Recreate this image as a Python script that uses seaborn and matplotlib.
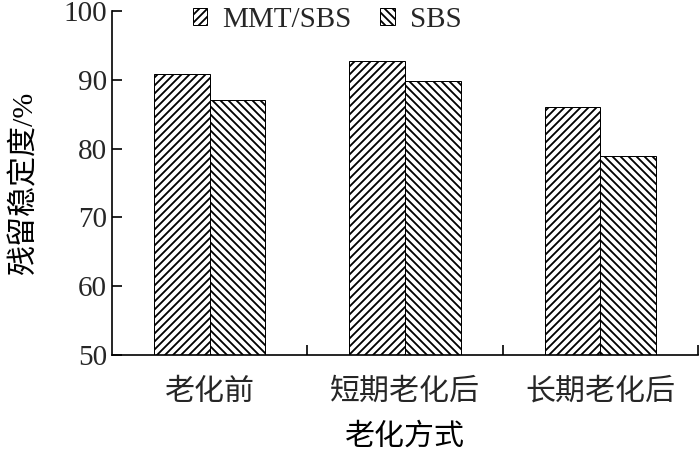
import pandas as pd
import seaborn as sns
import matplotlib.pyplot as plt
from matplotlib.ticker import FixedLocator

# data
categories = ['老化前', '短期老化后', '长期老化后']
series_names = ['MMT/SBS', 'SBS']
mmt_sbs = [90.8, 92.8, 86.0]
sbs = [87.1, 89.8, 78.9]
y_ticks = [50, 60, 70, 80, 90, 100]

sns.set_theme(style='white')
plt.rcParams['font.family'] = ['Liberation Serif', 'Noto Sans CJK SC']
plt.rcParams['hatch.linewidth'] = 1.1
plt.rcParams['axes.unicode_minus'] = False

df = pd.DataFrame({
    '老化方式': categories * 2,
    '残留稳定度': mmt_sbs + sbs,
    '材料': [series_names[0]] * 3 + [series_names[1]] * 3,
})

dpi = 120
fig = plt.figure(figsize=(700 / dpi, 449 / dpi), dpi=dpi)
ax = fig.add_axes([112 / 700, 94 / 449, 586 / 700, 344 / 449])

sns.barplot(data=df, x='老化方式', y='残留稳定度', hue='材料',
            palette=['white', 'white'], edgecolor='black', linewidth=0.6,
            width=0.57, gap=0, legend=False, ax=ax)

hatches = ['/////', '\\\\\\\\\\']
for container, hatch in zip(ax.containers, hatches):
    for bar in container:
        bar.set_hatch(hatch)
        bar.set_edgecolor('black')

ax.set_ylim(50, 100)
ax.set_xlim(-0.5, 2.5)
ax.set_yticks(y_ticks)
ax.xaxis.set_minor_locator(FixedLocator([0.5, 1.5, 2.5]))

for side in ['top', 'right']:
    ax.spines[side].set_visible(False)
for side in ['left', 'bottom']:
    ax.spines[side].set_color('black')
    ax.spines[side].set_linewidth(1.0)

ax.tick_params(axis='y', which='major', direction='in', length=6,
               width=1.0, color='black', left=True, pad=3, labelsize=17.5)
ax.tick_params(axis='x', which='major', length=0, pad=14, labelsize=18)
ax.tick_params(axis='x', which='minor', direction='in', length=6,
               width=1.0, color='black', bottom=True)

ax.set_xlabel('老化方式', fontsize=18, labelpad=10, color='black')
ax.set_ylabel('残留稳定度/%', fontsize=18, labelpad=15, color='black')

ax.legend(ax.containers, series_names, loc='center',
          bbox_to_anchor=(0.367, 0.974), ncol=2, frameon=False,
          fontsize=17.5, handlelength=0.5, handleheight=0.5,
          handletextpad=0.5, columnspacing=1.0, borderpad=0.2)

fig.savefig('out.png', dpi=dpi, facecolor='white')
